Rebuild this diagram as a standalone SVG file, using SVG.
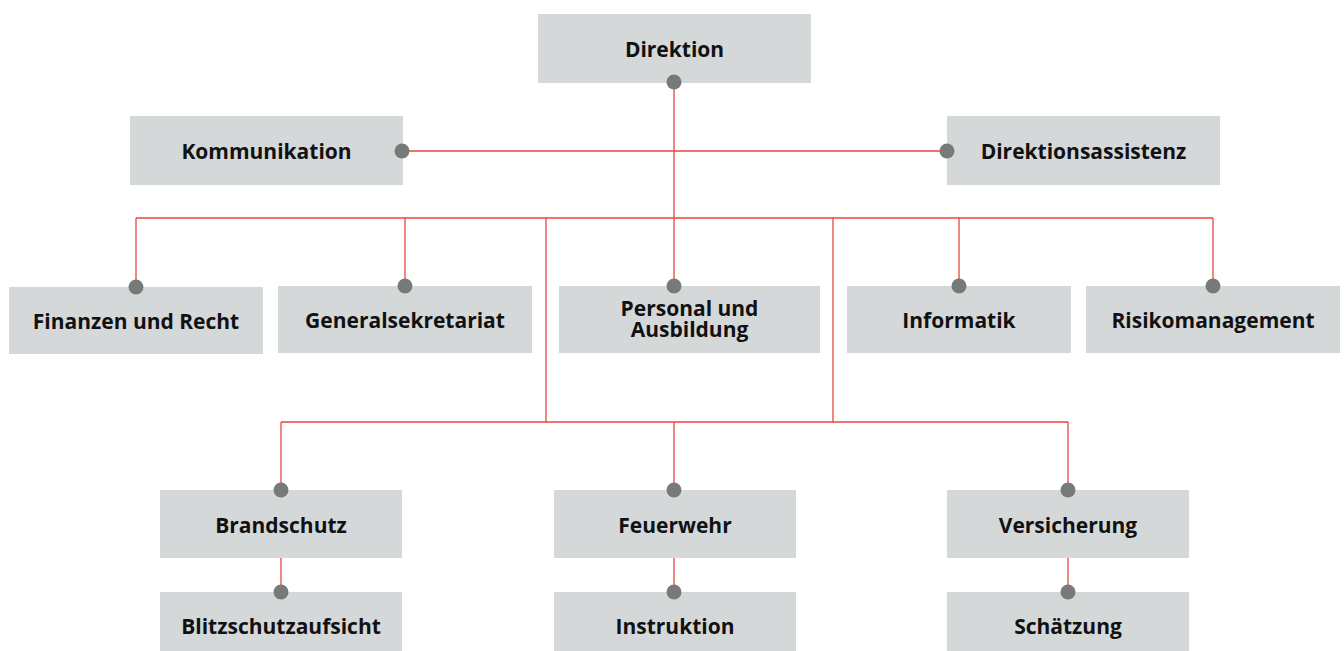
<svg xmlns="http://www.w3.org/2000/svg" width="1344" height="651" viewBox="0 0 1344 651">
<style>
.box{fill:#d5d8d9}
.lbl{font-family:"Open Sans","Noto Sans","Liberation Sans",sans-serif;font-weight:700;font-size:21px;fill:#111;text-anchor:middle}
.ln{stroke:#e8453f;stroke-width:1.3;fill:none}
.dot{fill:#787a7a}
</style>
<rect width="1344" height="651" fill="#fff"/>
<g id="connectors">
<path class="ln" d="M674,83V286 M402,151H947 M136,218H1213 M136,218V287 M405,218V287 M959,218V287 M1213,218V287 M546,218V422 M833,218V422 M281,422H1068 M281,422V490 M674,422V490 M1068,422V490 M281,558V592 M674,558V592 M1068,558V592"/>
</g>
<g id="direktion"><rect class="box" x="538" y="14" width="273" height="69"/><text class="lbl" x="674.5" y="57">Direktion</text></g>
<g id="kommunikation"><rect class="box" x="130" y="116" width="273" height="69"/><text class="lbl" x="266.5" y="158.5">Kommunikation</text></g>
<g id="direktionsassistenz"><rect class="box" x="947" y="116" width="273" height="69"/><text class="lbl" x="1083.5" y="158.5">Direktionsassistenz</text></g>
<g id="finanzen"><rect class="box" x="9" y="287" width="254" height="67"/><text class="lbl" x="136" y="329">Finanzen und Recht</text></g>
<g id="generalsekretariat"><rect class="box" x="278" y="286" width="254" height="67"/><text class="lbl" x="405" y="328">Generalsekretariat</text></g>
<g id="personal"><rect class="box" x="559" y="286" width="261" height="67"/><text class="lbl" x="689.5" y="315.5">Personal und</text><text class="lbl" x="689.5" y="336.5">Ausbildung</text></g>
<g id="informatik"><rect class="box" x="847" y="286" width="224" height="67"/><text class="lbl" x="959" y="328">Informatik</text></g>
<g id="risikomanagement"><rect class="box" x="1086" y="286" width="254" height="67"/><text class="lbl" x="1213" y="328">Risikomanagement</text></g>
<g id="brandschutz"><rect class="box" x="160" y="490" width="242" height="68"/><text class="lbl" x="281" y="532.5">Brandschutz</text></g>
<g id="feuerwehr"><rect class="box" x="554" y="490" width="242" height="68"/><text class="lbl" x="675" y="532.5">Feuerwehr</text></g>
<g id="versicherung"><rect class="box" x="947" y="490" width="242" height="68"/><text class="lbl" x="1068" y="532.5">Versicherung</text></g>
<g id="blitzschutzaufsicht"><rect class="box" x="160" y="592" width="242" height="59"/><text class="lbl" x="281" y="634">Blitzschutzaufsicht</text></g>
<g id="instruktion"><rect class="box" x="554" y="592" width="242" height="59"/><text class="lbl" x="675" y="634">Instruktion</text></g>
<g id="schaetzung"><rect class="box" x="947" y="592" width="242" height="59"/><text class="lbl" x="1068" y="634">Schätzung</text></g>
<g id="dots">
<circle class="dot" cx="674" cy="82" r="7.5"/>
<circle class="dot" cx="402" cy="151" r="7.5"/>
<circle class="dot" cx="947" cy="151" r="7.5"/>
<circle class="dot" cx="136" cy="287" r="7.5"/>
<circle class="dot" cx="405" cy="286" r="7.5"/>
<circle class="dot" cx="674" cy="286" r="7.5"/>
<circle class="dot" cx="959" cy="286" r="7.5"/>
<circle class="dot" cx="1213" cy="286" r="7.5"/>
<circle class="dot" cx="281" cy="490" r="7.5"/>
<circle class="dot" cx="674" cy="490" r="7.5"/>
<circle class="dot" cx="1068" cy="490" r="7.5"/>
<circle class="dot" cx="281" cy="592" r="7.5"/>
<circle class="dot" cx="674" cy="592" r="7.5"/>
<circle class="dot" cx="1068" cy="592" r="7.5"/>
</g>
</svg>
